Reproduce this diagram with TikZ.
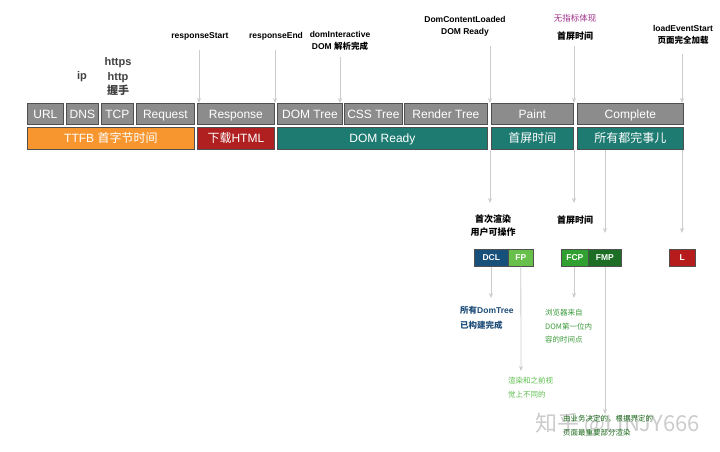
\documentclass[tikz,border=0pt]{standalone}
\usepackage{fontspec}
\setmainfont{Liberation Sans}
\newfontfamily\cjk{Noto Sans CJK SC}
\usetikzlibrary{arrows.meta}
\definecolor{gfill}{HTML}{8C8C8C}
\definecolor{gline}{HTML}{505050}
\definecolor{orng}{HTML}{F7962F}
\definecolor{dred}{HTML}{B02020}
\definecolor{teal2}{HTML}{1E7B72}
\definecolor{dclc}{HTML}{17507A}
\definecolor{fpc}{HTML}{66C04A}
\definecolor{fcpc}{HTML}{30A030}
\definecolor{fmpc}{HTML}{1C6E24}
\definecolor{lc}{HTML}{B71C1C}
\definecolor{arr}{HTML}{CCCCCC}
\definecolor{magc}{HTML}{A0308A}
\definecolor{bluet}{HTML}{1F4E79}
\definecolor{greent}{HTML}{3A9A3A}
\definecolor{lgreent}{HTML}{5CBF4C}
\definecolor{dgreent}{HTML}{1D6B1D}
\begin{document}
\begin{tikzpicture}[x=1pt,y=-1pt,
  gbox/.style={draw=gline,line width=0.8pt,fill=gfill,text=white,anchor=north west,inner sep=0pt,minimum height=21pt,text height=8.6pt,text depth=0pt,font=\fontsize{12}{12}\selectfont},
  bar/.style={draw=gline,line width=0.8pt,text=white,anchor=north west,inner sep=0pt,minimum height=22pt,text height=8.6pt,text depth=0pt,font=\fontsize{12}{12}\selectfont},
  mbox/.style={draw=gline,line width=0.6pt,text=white,anchor=north west,inner sep=0pt,minimum height=17pt,text height=6pt,text depth=0pt,font=\bfseries\fontsize{8.5}{9}\selectfont},
  lbl/.style={align=center,font=\bfseries\fontsize{8.5}{12}\selectfont,inner sep=0pt},
  note/.style={align=left,anchor=north west,inner sep=0pt},
  ar/.style={draw=arr,line width=0.8pt,-{Stealth[length=5pt,width=4pt]}}]
\useasboundingbox (0,0) rectangle (720,451);
\fill[white] (0,0) rectangle (720,451);
% watermark
\node[text=black!20,font=\cjk\fontsize{22}{24}\selectfont,inner sep=0pt] (wm) at (618,424) {知乎 @LINJY666};
% top grey boxes
\node[gbox,minimum width=36pt] (url) at (27,103) {URL};
\node[gbox,minimum width=32pt] (dns) at (66,103) {DNS};
\node[gbox,minimum width=32pt] (tcp) at (101,103) {TCP};
\node[gbox,minimum width=58pt] (req) at (136,103) {Request};
\node[gbox,minimum width=77pt] (resp) at (197,103) {Response};
\node[gbox,minimum width=65pt] (domt) at (277,103) {DOM Tree};
\node[gbox,minimum width=58pt] (csst) at (344,103) {CSS Tree};
\node[gbox,minimum width=83pt] (rent) at (404,103) {Render Tree};
\node[gbox,minimum width=82pt] (paint) at (491,103) {Paint};
\node[gbox,minimum width=106pt] (comp) at (577,103) {Complete};
% coloured bars
\node[bar,fill=orng,minimum width=167pt] (ttfb) at (27,127) {TTFB {\cjk 首字节时间}};
\node[bar,fill=dred,minimum width=77pt] (dl) at (197,127) {{\cjk 下载}HTML};
\node[bar,fill=teal2,minimum width=210pt] (domr) at (277,127) {DOM Ready};
\node[bar,fill=teal2,minimum width=82pt] (fst) at (491,127) {\cjk 首屏时间};
\node[bar,fill=teal2,minimum width=106pt] (done) at (577,127) {\cjk 所有都完事儿};
% top labels
\node[lbl] (rs) at (200,36) {responseStart};
\node[lbl] (re) at (276,36) {responseEnd};
\node[lbl] (di) at (340,41) {domInteractive\\DOM {\cjk 解析完成}};
\node[lbl] (dcl) at (465,26) {DomContentLoaded\\DOM Ready};
\node[lbl,text=magc,font=\cjk\fontsize{8.5}{9}\selectfont] (nz) at (575,18) {无指标体现};
\node[lbl,font=\cjk\bfseries\fontsize{9}{9}\selectfont] (sp) at (575,36) {首屏时间};
\node[lbl] (les) at (683,35) {loadEventStart\\{\cjk 页面完全加载}};
\node[lbl,text=black!75,font=\bfseries\fontsize{11}{14.5}\selectfont] (ip) at (82,77) {ip};
\node[lbl,text=black!75,font=\bfseries\fontsize{11}{14.5}\selectfont] (hs) at (118,77) {https\\http\\{\cjk 握手}};
% top arrows
\coordinate (a1) at (199,50); \coordinate (a2) at (275,50); \coordinate (a3) at (340,57);
\coordinate (a4) at (490,46); \coordinate (a5) at (574,46); \coordinate (a6) at (682,54);
\draw[ar] (a1) -- (resp.north west -| a1);
\draw[ar] (a2) -- (resp.north east -| a2);
\draw[ar] (a3) -- (domt.north east -| a3);
\draw[ar] (a4) -- (paint.north west -| a4);
\draw[ar] (a5) -- (paint.north east -| a5);
\draw[ar] (a6) -- (comp.north east -| a6);
% small metric boxes
\node[mbox,fill=dclc,minimum width=34pt] (bdcl) at (474,249) {DCL};
\node[mbox,fill=fpc,minimum width=25pt] (bfp) at (508,249) {FP};
\node[mbox,fill=fcpc,minimum width=27pt] (bfcp) at (561,249) {FCP};
\node[mbox,fill=fmpc,minimum width=33pt] (bfmp) at (588,249) {FMP};
\node[mbox,fill=lc,minimum width=26pt] (bl) at (669,249) {L};
% middle labels
\node[lbl,font=\cjk\bfseries\fontsize{9}{13}\selectfont] (fr) at (493,226) {首次渲染\\用户可操作};
\node[lbl,font=\cjk\bfseries\fontsize{9}{9}\selectfont] (sp2) at (575,220) {首屏时间};
% middle arrows
\coordinate (m1) at (490,203); \coordinate (m2) at (574,203);
\coordinate (m3) at (605,233); \coordinate (m4) at (682,233);
\draw[ar] (fst.south west -| m1) -- (m1);
\draw[ar] (fst.south east -| m2) -- (m2);
\draw[ar] (done.south west -| m3) -- (m3);
\draw[ar] (done.south east -| m4) -- (m4);
% bottom notes
\node[note,text=bluet,font=\bfseries\fontsize{8.5}{15}\selectfont] (n1) at (460,306) {{\cjk 所有}DomTree\\{\cjk 已构建完成}};
\node[note,text=greent,font=\cjk\fontsize{7.5}{13.5}\selectfont] (n2) at (545,309) {浏览器来自\\DOM第一位内\\容的时间点};
\node[note,text=lgreent,font=\cjk\fontsize{7.5}{13.5}\selectfont] (n3) at (508,377) {渲染和之前视\\觉上不同的};
\node[note,text=dgreent,font=\cjk\fontsize{7.5}{13.5}\selectfont] (n4) at (563,415) {由业务决定的，根据界定的\\页面最重要部分渲染};
% bottom arrows
\coordinate (b1) at (491,298); \coordinate (b2) at (521,371);
\coordinate (b3) at (574,298); \coordinate (b4) at (605,414);
\draw[ar] (bdcl.south -| b1) -- (b1);
\draw[ar] (bfp.south) -- (b2);
\draw[ar] (bfcp.south -| b3) -- (b3);
\draw[ar] (bfmp.south -| b4) -- (b4);
\end{tikzpicture}
\end{document}
